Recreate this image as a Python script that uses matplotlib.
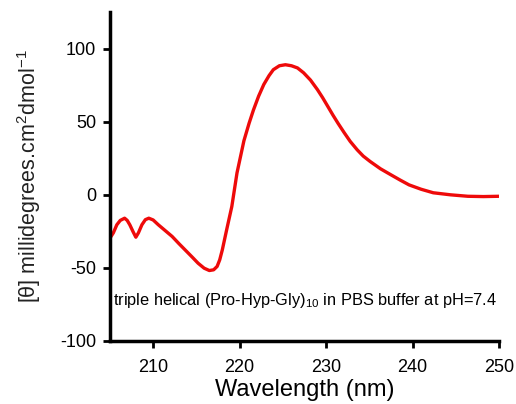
import matplotlib
matplotlib.use('Agg')
import matplotlib.pyplot as plt

plt.rcParams['font.family'] = ['Liberation Sans', 'DejaVu Sans']
plt.rcParams['mathtext.fontset'] = 'custom'
plt.rcParams['mathtext.rm'] = 'Liberation Sans'
plt.rcParams['mathtext.it'] = 'Liberation Sans:italic'
plt.rcParams['axes.unicode_minus'] = False

# CD spectrum
wavelength = [205.0, 205.4, 205.8, 206.2, 206.7, 207.0, 207.3, 207.7, 208.0, 208.3,
              208.7, 209.1, 209.5, 210.0, 210.6, 211.4, 212.2, 213.0, 213.7, 214.5,
              215.2, 215.9, 216.5, 217.0, 217.4, 217.7, 218.0, 218.5, 219.1, 219.7,
              220.5, 221.1, 221.6, 222.2, 222.8, 223.4, 223.9, 224.6, 225.3, 226.0,
              226.7, 227.4, 228.2, 229.0, 229.6, 230.2, 230.8, 231.4, 232.1, 232.8,
              233.6, 234.3, 235.1, 236.3, 237.5, 238.6, 239.6, 241.0, 242.4, 244.4,
              246.4, 248.2, 250.0]
theta = [-29.7, -26.0, -20.5, -17.5, -16.0, -17.5, -20.5, -25.5, -29.0, -26.0,
         -20.5, -17.0, -16.0, -17.2, -20.5, -24.5, -28.5, -33.5, -37.7, -42.5,
         -46.8, -50.2, -51.8, -51.3, -49.0, -44.5, -37.7, -24.0, -8.0, 15.0,
         37.0, 49.0, 58.0, 67.5, 75.5, 81.5, 85.6, 88.3, 89.0, 88.3,
         86.8, 83.5, 78.5, 72.0, 66.5, 60.5, 54.5, 48.8, 42.5, 36.5,
         30.8, 26.5, 22.8, 17.8, 13.7, 10.0, 6.8, 3.8, 1.4, 0.0,
         -1.0, -1.2, -1.0]
xticks = [210, 220, 230, 240, 250]
yticks = [-100, -50, 0, 50, 100]

fig = plt.figure(figsize=(5.16, 4.04), dpi=100)
ax = fig.add_axes([0.213, 0.156, 0.754, 0.814])
ax.plot(wavelength, theta, color='#ee0a0a', lw=2.4, solid_joinstyle='round')

ax.set_xlim(205, 250)
ax.set_ylim(-100, 125)
ax.set_xticks(xticks)
ax.set_yticks(yticks)
ax.spines['top'].set_visible(False)
ax.spines['right'].set_visible(False)
ax.spines['left'].set_linewidth(2.5)
ax.spines['bottom'].set_linewidth(2.5)
ax.tick_params(width=2, length=5, labelsize=13, colors='black', pad=5)
ax.tick_params(axis='x', pad=8)

ax.set_xlabel('Wavelength (nm)', fontsize=17, labelpad=2)
ax.set_ylabel(r'[θ] millidegrees.cm$^{2}$dmol$^{-1}$', fontsize=15.5, color='#222222',
              labelpad=12)
ax.text(205.3, -72, r'triple helical (Pro-Hyp-Gly)$_{10}$ in PBS buffer at pH=7.4',
        fontsize=11.8, va='center', ha='left')

fig.savefig('out.png', dpi=100)
